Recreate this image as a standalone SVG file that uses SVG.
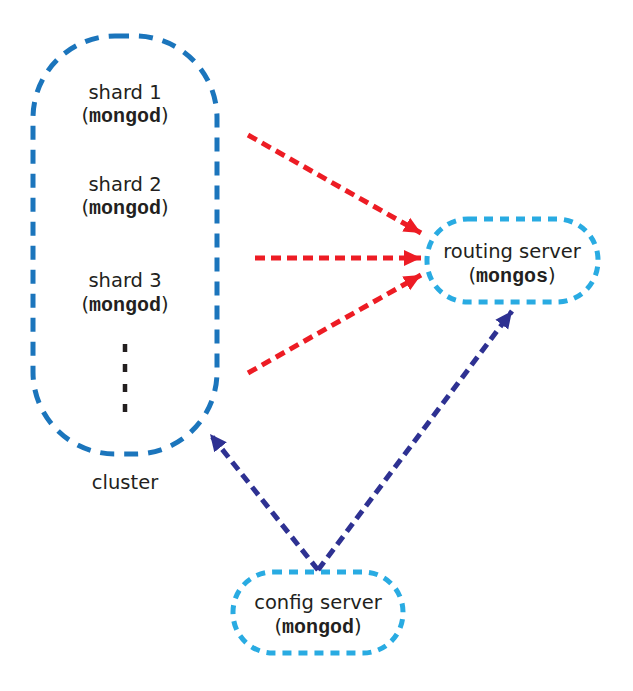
<svg xmlns="http://www.w3.org/2000/svg" width="633" height="691" viewBox="0 0 633 691">
<style>
text.lbl{font-family:"DejaVu Sans",Verdana,sans-serif;font-size:19.5px;fill:#231f20;text-anchor:middle}
tspan.mono{font-family:"Liberation Mono","Courier New",monospace;font-weight:bold;font-size:20px}
.red{stroke:#ed1c24;stroke-width:5;stroke-dasharray:10 6;fill:none}
.navy{stroke:#2e3192;stroke-width:5;stroke-dasharray:10 6;fill:none}
.srv{fill:none;stroke:#29abe2;stroke-width:5;stroke-dasharray:9 7}
</style>
<defs>
<marker id="ar" markerUnits="userSpaceOnUse" markerWidth="18" markerHeight="18" viewBox="0 0 18 18" refX="17" refY="9" orient="auto"><path d="M0,1 L17,9 L0,17 z" fill="#ed1c24"/></marker>
<marker id="an" markerUnits="userSpaceOnUse" markerWidth="18" markerHeight="18" viewBox="0 0 18 18" refX="17" refY="9" orient="auto"><path d="M0,1 L17,9 L0,17 z" fill="#2e3192"/></marker>
</defs>
<rect width="633" height="691" fill="#fff"/>
<g id="cluster">
<rect x="33" y="36" width="184" height="418" rx="82" ry="82" fill="none" stroke="#1b75bc" stroke-width="5" stroke-dasharray="14 10"/>
<text class="lbl" x="125" y="99">shard 1</text>
<text class="lbl" x="125" y="122">(<tspan class="mono">mongod</tspan>)</text>
<text class="lbl" x="125" y="191">shard 2</text>
<text class="lbl" x="125" y="214">(<tspan class="mono">mongod</tspan>)</text>
<text class="lbl" x="125" y="287">shard 3</text>
<text class="lbl" x="125" y="311">(<tspan class="mono">mongod</tspan>)</text>
<line x1="125" y1="344" x2="125" y2="416" stroke="#231f20" stroke-width="4.5" stroke-dasharray="8 12"/>
<text class="lbl" x="125" y="489">cluster</text>
</g>
<g id="routing">
<rect class="srv" x="427" y="219" width="171" height="83" rx="41" ry="41"/>
<text class="lbl" x="512" y="258">routing server</text>
<text class="lbl" x="512" y="282">(<tspan class="mono">mongos</tspan>)</text>
</g>
<g id="config">
<rect class="srv" x="233" y="572" width="170" height="81" rx="40" ry="40"/>
<text class="lbl" x="318" y="609">config server</text>
<text class="lbl" x="318" y="633">(<tspan class="mono">mongod</tspan>)</text>
</g>
<g id="connectors">
<line class="red" x1="248" y1="135" x2="421" y2="233" marker-end="url(#ar)"/>
<line class="red" x1="255" y1="258" x2="421" y2="258" marker-end="url(#ar)"/>
<line class="red" x1="248" y1="373" x2="421" y2="275" marker-end="url(#ar)"/>
<line class="navy" x1="318" y1="570" x2="210" y2="434" marker-end="url(#an)"/>
<line class="navy" x1="318" y1="570" x2="512" y2="311" marker-end="url(#an)"/>
</g>
</svg>
